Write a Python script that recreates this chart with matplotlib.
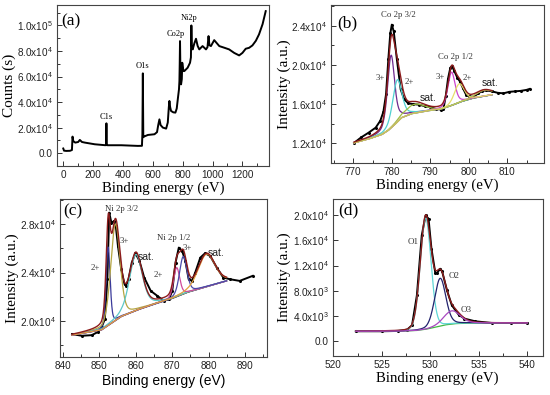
import numpy as np
import matplotlib.pyplot as plt
from matplotlib.ticker import MultipleLocator, FuncFormatter

plt.rcParams['font.family'] = 'Liberation Sans'
plt.rcParams['mathtext.fontset'] = 'custom'
plt.rcParams['mathtext.rm'] = 'Liberation Sans'
plt.rcParams['mathtext.default'] = 'regular'
SERIF = 'Liberation Serif'

# ---------------- (a) survey spectrum
survey_be = [0, 5, 20, 45, 58, 62, 67, 80, 100, 111, 125, 145, 211, 278, 286, 289, 292,
             300, 389, 500, 527, 530, 533, 536, 540, 567, 611, 628, 636, 644, 652, 667,
             689, 700, 707, 711, 716, 722, 737, 751, 760, 767, 775, 778, 780, 782, 785,
             789, 794, 797, 800, 805, 811, 833, 849, 855, 858, 861, 867, 878, 889, 900,
             911, 933, 956, 966, 973, 979, 989, 1011, 1045, 1080, 1111, 1145, 1178, 1200,
             1222, 1245, 1267, 1290, 1311, 1335, 1356]
survey_counts = [3700, 2000, 1800, 1900, 2500, 13000, 9500, 8300, 8800, 10400, 8800, 8300,
                 7000, 6300, 6300, 23400, 6300, 6250, 6250, 5730, 5800, 15000, 62500, 12500,
                 13000, 14300, 14850, 16500, 22000, 26500, 22000, 20050, 19270, 24000, 36000,
                 40900, 36000, 33070, 32000, 31770, 35000, 42200, 50000, 56500, 70000, 87750,
                 62000, 53900, 58000, 70800, 68000, 64300, 64300, 66900, 70800, 75000, 100000,
                 84000, 81250, 86000, 89580, 84000, 81250, 83850, 81250, 83000, 91660, 84500,
                 83850, 88500, 83850, 82500, 81250, 78500, 76550, 78500, 81770, 82500, 84370,
                 88000, 92960, 101000, 111200]

# ---------------- (b) Co 2p
co_be = [770.2, 772.0, 774.0, 775.8, 777.0, 777.8, 778.5, 779.1, 779.6, 780.0, 780.5, 781.3,
         782.3, 783.2, 784.2, 785.5, 787.0, 788.5, 790.0, 791.5, 792.8, 793.4, 794.0, 794.6,
         795.2, 795.6, 796.2, 797.0, 797.7, 798.5, 799.3, 800.0, 801.2, 802.5, 803.5, 804.5,
         806.0, 807.5, 809.0, 810.5, 812.0, 813.5, 815.0, 815.8]
co_int = [12050, 12600, 13100, 13600, 14300, 15200, 17000, 20600, 23200, 24100, 23400, 20600,
          17500, 16500, 16100, 16000, 15950, 15800, 15700, 15500, 15450, 15500, 16800, 18600,
          19700, 19900, 19400, 18700, 18300, 17600, 16950, 16800, 16750, 17100, 17350, 17400,
          17300, 17150, 17100, 17250, 17300, 17350, 17450, 17550]
co_bg_be = [770.2, 774.0, 777.4, 779.0, 780.8, 782.5, 785.1, 789.0, 792.9, 795.5, 798.0, 801.0, 806.0]
co_bg_int = [12050, 12450, 12900, 13300, 13930, 14610, 15020, 15300, 15500, 15850, 16250, 16600, 16950]
co_center = [779.8, 781.4, 786.0, 795.5, 797.5, 804.0]
co_height = [7400, 4300, 900, 3400, 1900, 600]
co_fwhm = [2.2, 2.8, 6.0, 2.2, 3.0, 5.0]
co_eta = [0.5, 0.4, 0.3, 0.4, 0.3, 0.2]
co_colors = ['#6e2a8e', '#4fd0d0', '#9fc040', '#cc44cc', '#e6df6a', '#c2c45a']

# ---------------- (c) Ni 2p
ni_be = [842.5, 845.2, 847.9, 849.7, 850.6, 851.5, 852.2, 852.7, 853.3, 854.1, 854.5, 855.1,
         856.0, 856.9, 857.3, 858.0, 858.9, 859.9, 861.0, 862.3, 864.1, 865.9, 867.7, 869.1,
         870.0, 870.9, 871.8, 872.7, 873.6, 874.5, 875.4, 876.3, 877.7, 879.0, 880.4, 882.2,
         884.0, 885.8, 888.5, 892.1]
ni_int = [18900, 18760, 18810, 19090, 19450, 20140, 23450, 28970, 28140, 28280, 27870, 26210,
          24280, 23040, 22900, 23450, 24830, 25600, 24970, 23590, 22480, 22070, 21660, 21790,
          22480, 24830, 26070, 25800, 24970, 23450, 23310, 24000, 25240, 25600, 25380, 24420,
          23590, 23450, 23310, 23730]
ni_bg_be = [842.5, 850.6, 856.0, 860.5, 865.0, 869.5, 874.0, 878.6, 884.9]
ni_bg_int = [18810, 19250, 20360, 20910, 21380, 21800, 22350, 22760, 23310]
ni_center = [852.4, 854.4, 860.0, 871.2, 873.0, 879.4]
ni_height = [6500, 8000, 4650, 2400, 3100, 2700]
ni_fwhm = [1.3, 3.0, 4.2, 2.0, 2.4, 5.5]
ni_eta = [0.3, 0.3, 0.4, 0.3, 0.3, 0.3]
ni_colors = ['#3a3a9a', '#b5a642', '#5cc8c8', '#d04a9a', '#4a4aaa', '#e3a040']

# ---------------- (d) O 1s
o_be = [522.3, 525.0, 526.7, 527.6, 528.1, 528.6, 529.1, 529.5, 529.8, 530.1, 530.5, 530.7,
        531.0, 531.2, 531.7, 532.2, 532.9, 533.5, 534.6, 536.3, 538.3, 540.0]
o_int = [1540, 1540, 1590, 1800, 2500, 7270, 16800, 20000, 19470, 14700, 10800, 10870,
         11500, 11090, 8060, 5680, 4190, 3550, 3130, 2860, 2860, 2860]
o_bg_be = [522.3, 527.0, 528.5, 529.5, 530.5, 531.5, 532.5, 534.0, 540.0]
o_bg_int = [1540, 1560, 1650, 1850, 2200, 2550, 2750, 2850, 2860]
o_center = [529.5, 531.0, 532.2]
o_height = [17700, 7600, 2100]
o_fwhm = [1.3, 1.35, 2.0]
o_eta = [0.1, 0.2, 0.2]
o_colors = ['#5fd6d6', '#23236e', '#a848c0']


def pv(x, c, h, w, eta):
    u = (x - c) / w
    return h * (eta / (1 + 4 * u ** 2) + (1 - eta) * np.exp(-4 * np.log(2) * u ** 2))


def sci(v, pos):
    if abs(v) < 1e-9:
        return '0.0'
    e = int(np.floor(np.log10(abs(v))))
    return r'%.1fx10$^{%d}$' % (v / 10 ** e, e)


def style(ax, xmaj, xmin, ymaj, ymin):
    ax.xaxis.set_major_locator(MultipleLocator(xmaj))
    ax.xaxis.set_minor_locator(MultipleLocator(xmin))
    ax.yaxis.set_major_locator(MultipleLocator(ymaj))
    if ymin:
        ax.yaxis.set_minor_locator(MultipleLocator(ymin))
    ax.yaxis.set_major_formatter(FuncFormatter(sci))
    ax.tick_params(which='both', direction='in', top=False, right=False, width=0.7,
                   labelsize=7.2, pad=3, colors='#333333', labelcolor='#222222')
    ax.tick_params(which='major', length=3.5)
    ax.tick_params(which='minor', length=2)
    for s in ax.spines.values():
        s.set_color('#444444')
        s.set_linewidth(0.8)


def fit_panel(ax, be, inten, bg_be, bg_int, center, height, fwhm, eta, colors, top_last=None):
    x = np.linspace(bg_be[0], bg_be[-1], 700)
    bg = np.interp(x, bg_be, bg_int)
    ax.plot(be, inten, color='black', lw=1.4, marker='o', ms=1.2, zorder=2)
    ax.plot(x, bg, color='#1e2266', lw=0.9, zorder=3)
    total = bg.copy()
    for i in range(len(center)):
        comp = pv(x, center[i], height[i], fwhm[i], eta[i])
        total += comp
        z = 6 if i == top_last else 4
        ax.plot(x, bg + comp, color=colors[i], lw=0.9, zorder=z)
    ax.plot(x, total, color='#8c1c1c', lw=1.0, zorder=5)


fig = plt.figure(figsize=(5.5, 3.95), dpi=100)
W, H = 550.0, 395.0


def add_axes(l, t, r, b):
    return fig.add_axes([l / W, 1 - b / H, (r - l) / W, (b - t) / H])


# (a)
ax = add_axes(57, 5, 269, 166)
ax.plot(survey_be, survey_counts, color='black', lw=1.4)
ax.set_xlim(-42, 1378)
ax.set_ylim(-10000, 116000)
style(ax, 200, 100, 20000, 10000)
ax.set_xlabel('Binding energy (eV)', family=SERIF, fontsize=10.7, labelpad=1)
ax.set_ylabel('Counts (s)', family=SERIF, fontsize=11)
ax.yaxis.set_label_coords(-0.195, 0.5)
ax.text(0.066, 0.90, '(a)', transform=ax.transAxes, family=SERIF, fontsize=12.5, ha='center', va='center')
for lab, xx, yy in [('C1s', 289, 28700), ('O1s', 533, 68200), ('Co2p', 756, 93000), ('Ni2p', 845, 106000)]:
    ax.text(xx, yy, lab, family=SERIF, fontsize=6, ha='center', va='center')

# (b)
ax = add_axes(331, 5, 543.5, 163)
fit_panel(ax, co_be, co_int, co_bg_be, co_bg_int, co_center, co_height, co_fwhm, co_eta, co_colors)
ax.set_xlim(764.2, 819.4)
ax.set_ylim(10000, 26100)
style(ax, 10, 5, 4000, 2000)
ax.set_xlabel('Binding energy (eV)', family=SERIF, fontsize=10.7, labelpad=1)
ax.set_ylabel('Intensity (a.u.)', family=SERIF, fontsize=11)
ax.yaxis.set_label_coords(-0.19, 0.5)
ax.text(0.078, 0.884, '(b)', transform=ax.transAxes, family=SERIF, fontsize=12.5, ha='center', va='center')
for lab, xx, yy in [('Co 2p 3/2', 781.7, 25060), ('3+', 776.9, 18690), ('2+', 784.5, 18240),
                    ('Co 2p 1/2', 796.4, 20820), ('3+', 792.5, 18790), ('2+', 799.5, 18620)]:
    ax.text(xx, yy, lab, family=SERIF, fontsize=6.3, color='#333333', ha='center', va='center')
for xx, yy in [(789.3, 16630), (805.5, 18180)]:
    ax.text(xx, yy, 'sat.', fontsize=7.5, color='#222222', ha='center', va='center')

# (c)
ax = add_axes(60, 199, 267, 357)
fit_panel(ax, ni_be, ni_int, ni_bg_be, ni_bg_int, ni_center, ni_height, ni_fwhm, ni_eta, ni_colors)
ax.set_xlim(839.2, 896)
ax.set_ylim(17000, 30100)
style(ax, 10, 5, 4000, 2000)
ax.set_xlabel('Binding energy (eV)', fontsize=10, labelpad=2)
ax.set_ylabel('Intensity (a.u.)', family=SERIF, fontsize=11)
ax.yaxis.set_label_coords(-0.2, 0.5)
ax.text(0.064, 0.92, '(c)', transform=ax.transAxes, family=SERIF, fontsize=12.5, ha='center', va='center')
for lab, xx, yy in [('Ni 2p 3/2', 856.0, 29300), ('3+', 856.9, 26620), ('2+', 849.0, 24410),
                    ('Ni 2p 1/2', 870.4, 26900), ('3+', 874.2, 26070), ('2+', 866.1, 23780)]:
    ax.text(xx, yy, lab, family=SERIF, fontsize=6.3, color='#333333', ha='center', va='center')
for xx, yy in [(862.8, 25300), (882.0, 25600)]:
    ax.text(xx, yy, 'sat.', fontsize=7.5, color='#222222', ha='center', va='center')

# (d)
ax = add_axes(332.5, 199, 543, 356)
fit_panel(ax, o_be, o_int, o_bg_be, o_bg_int, o_center, o_height, o_fwhm, o_eta, o_colors, top_last=2)
ax.lines[1].set_color('#44b844')
ax.set_xlim(519.9, 541.6)
ax.set_ylim(-2400, 22600)
style(ax, 5, 2.5, 4000, None)
ax.set_xlabel('Binding energy (eV)', family=SERIF, fontsize=10.7, labelpad=1)
ax.set_ylabel('Intensity (a.u.)', family=SERIF, fontsize=11)
ax.yaxis.set_label_coords(-0.195, 0.5)
ax.text(0.075, 0.93, '(d)', transform=ax.transAxes, family=SERIF, fontsize=12.5, ha='center', va='center')
for lab, xx, yy in [('O1', 528.2, 15680), ('O2', 532.4, 10310), ('O3', 533.7, 5000)]:
    ax.text(xx, yy, lab, family=SERIF, fontsize=6.5, color='#333333', ha='center', va='center')

fig.savefig('out.png', dpi=100)
